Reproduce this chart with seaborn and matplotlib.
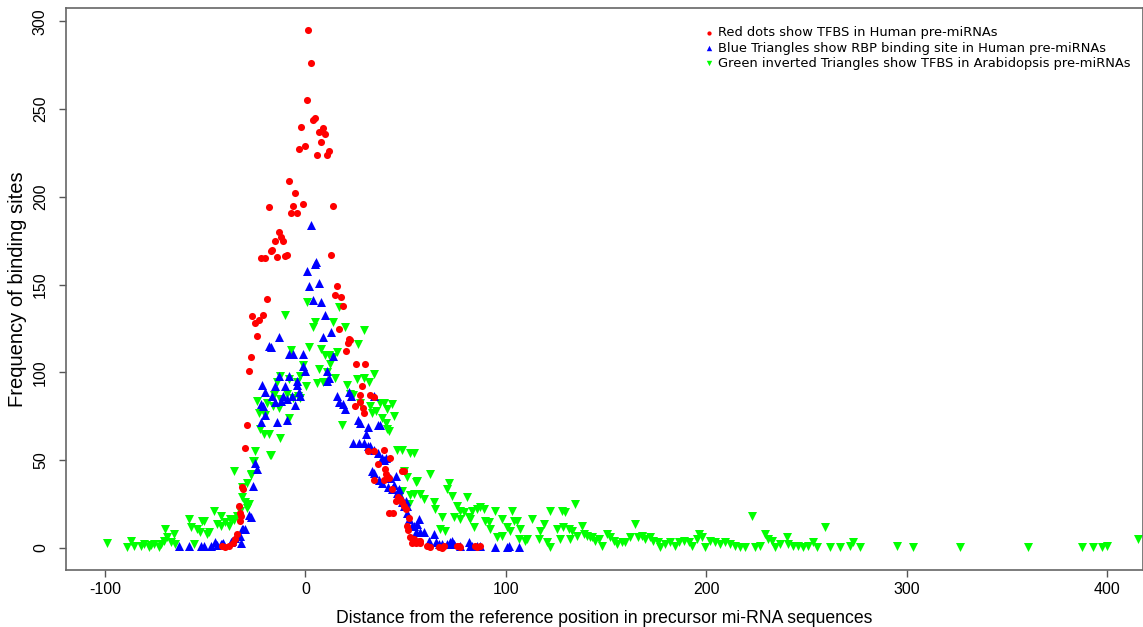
import matplotlib
matplotlib.use("Agg")
import matplotlib.pyplot as plt
import seaborn as sns
import pandas as pd

# ---------------- data ----------------
red_x = [1.5, 3, 0.8, 3.8, 5, -2, 6.8, 8.8, 10, 7.8, -3, 0, 6, 11, 12, -8, -5, -18,
         -6, -1, 14, -7, -4, -13, -12, -15, -11, -16.5, -17, -22, -20, -14, -10, -9,
         13, 16, 15, 18, -19, 19, 17, -26.6, -21, -25, -23, -24, -27, -28, 22, 22.4,
         21.3, 20.3, 25, 29.6, 28, 27.4, 32, 34, 27, 24.6, 28.6, 29, -29, -30, -31,
         -31.5, -33, -32.4, -32, 31, 34, 36, 39.5, 34.4, 39, 48, 49, 41.5, 43.7, 47,
         48, 46, 52, 54, 55.4, 53, -40, -38, -36, -35, 39, 42, 40, 41.5, 43, 45, 49,
         50, 51.6, 50.7, 51, 57, 56.6, 57.4, 60.7, 62, 66.5, 68, 75.6, 77, 85.6, 87,
         -41.5, -34, -32.4, 69, 76.5, 84.8]
red_y = [295, 276, 255, 244, 245, 240, 237, 239, 236, 231, 227, 229, 224, 224, 226, 209,
         202, 194, 195, 196, 195, 191, 191, 180, 177, 175, 175, 170, 169, 165, 165, 166,
         166.5, 167, 167, 149, 144, 143, 142, 138, 125, 132, 133, 128, 130, 121, 109,
         101, 119, 118.6, 117, 112, 105, 105, 92, 87, 87, 86, 83, 81, 80, 77, 70, 57,
         33.5, 35, 24, 20, 18, 55, 55, 48, 45, 39, 39, 44, 44, 20, 20, 28, 26, 29, 6, 5,
         3, 3, 0.4, 1.3, 3, 5, 56, 51, 42, 40, 33.5, 27, 24, 22, 17, 12.7, 10, 4, 4, 3,
         1.3, 0.4, 0.4, 0, 1.3, 0.4, 0.4, 1, 1.3, 8, 15.5, 1, 1, 1]

blue_x = [2.8, 5.5, 5, 0.8, 1.8, 7, 3.8, 7.8, 10, 9, 13, -13, -18, -17, -8, -6, -1, 14,
          0, -1, 11, 11.6, -13, -8, -4, 11, -21.6, -15, -10, -4, -20, -16.6, -11, -6.6,
          -3, -2.5, 16, 22, 23, 34, -22, -21, -15, -12, -9, -5, 17, 19, 20, -20, -22,
          -14, -9, 26, 27, 31, 36, 37.4, 30, 26.6, 24, 29, 31, 32, 34, 36, 38, 39, -25,
          -24, -26, -28, -27.4, -31, -34, -32, 33, 34, 36.5, 38, 41, 42, 45, 43, 45.7,
          47.4, 49, 50.7, 51.5, 53, 55, -41.5, -45, -47, -50.7, -36.5, -35, -63, -58,
          -52, -44, -42, -41, -37, -32.4, -31.6, -30, 40, 44, 46.5, 48, 50.7, 50, 54,
          56.5, 55.7, 57.4, 59, 64, 61.5, 65, 66.5, 68, 70.7, 72, 74, 77, 82, 85.6,
          94.8, 100.6, 106.5, 73.2, 81.5, 83.1, 87.3, 101.4]
blue_y = [184, 163, 162, 158, 149, 151, 141, 140, 132.5, 120, 123, 120, 115, 114.5, 110.5,
          110.5, 110.7, 109.5, 101, 103.5, 101, 97, 98, 98, 95, 95, 93, 92, 92, 93, 89,
          86.5, 86.5, 86.5, 89, 86.5, 86.5, 89, 86.5, 86.4, 82, 81, 83, 84, 85, 81.7, 83,
          82, 79, 76, 72, 72, 73, 73, 71, 69, 70, 70, 65, 60, 60, 60, 58, 58, 56, 54, 51,
          50, 48.6, 45, 35.5, 19, 17.4, 11, 7, 3, 44, 43, 39, 37, 35, 40, 41, 33.5, 31.6,
          30, 24, 20, 16.5, 12.7, 9, 2.3, 3.2, 1.3, 1.3, 4, 5.5, 1, 1, 1, 1.7, 2.3, 2.8,
          3.2, 7, 11, 11, 51, 36, 33.5, 26, 24, 27, 12.7, 16.5, 13.6, 9, 9, 8, 4, 3.2,
          2.3, 2.3, 2.3, 3.2, 2.3, 1.3, 1.3, 1.3, 0.4, 0.4, 0.4, 4.2, 3.2, 1.3, 1.3, 1.3]

green_x = [-99, -89, -87, -85.6, -82, -80.6, -78, -77, -75.6, -73, -72, -70.7, -69, -67,
           -70, -65.7, -65, -58, -57, -55.7, -54, -52.4, -50.7, -49, -45.7, -44, -42,
           -40, -38, -37.4, -35.7, -34, -32.4, -30, -29, -35.7, -31.6, -29, -27.4, -25.8,
           -25, -17.5, -51.6, -48, -42, -36.6, -31.6, -28, -27, -26,
           16.6, 0.8, -10, 5, 4, 14, 20, 29, 26, -7, -1, 2, 8, 10, 12, 16, 12.5, 14, 6.6,
           11, 15, 5.8, 8.8, -12.5, -14, -8, -4, -2.5, 0.3, -15.8, -12.5, -9, -6, -3.6,
           -2.5, -24.4, -19, -16, -13, -23, -20, -22.8, -20.8, -18, -12.5, -8, -17,
           20.8, 22.4, 24, 25.8, 29, 31.6, 34, 18.3, 27.4, 33, 32.4, 37.4, 43, 40.7, 35,
           40, 41.5, 45.7, 52.4, 49, 50.7, 55, 52.4, 51.5,
           39, 44, 40.7, 38, 48, 54, 55.7, 62, 48, 54, 57.4, 59, 64, 64.8, 67.3,
           71.5, 70.7, 73.2, 80.6, 75.7, 77.3, 79, 83.1, 85.6, 87.3, 88.9, 74, 68.2, 77.3,
           81.5, 82.3, 69.8, 84, 89.8, 91.4, 94.8, 98.1, 103.1, 103.9, 105.6, 92.3, 98.1,
           95.6, 100.6, 102.2, 107.2, 113.1, 117.2, 118.9, 122.2, 128, 129.7, 134.7, 110.6,
           109.7, 106.4, 116.4, 120.5, 122.2, 125.5, 128.8, 131.3, 133, 138, 127.2, 132.2,
           135.5, 138.8, 140.5, 142.1,
           143, 144.6, 146.3, 148, 150.5, 152.1, 153.8, 155.4, 158, 159.6, 162.1, 164.6,
           166.2, 167.9, 169.6, 172.1, 173.7, 176.2, 177.1, 179.6, 182, 184.5, 186.2,
           188.7, 191.2, 192.9, 195.4, 196.2, 197.8, 199.5, 202, 204.5, 207, 209.5, 212,
           214.5, 217, 219.5, 222.8, 224.4, 226.9, 229.4, 231.1, 232.8, 234.4, 236.9,
           240.2, 241, 243.5, 246, 248.5, 251, 253.5, 255.2, 259.4, 261.8, 266.8, 271.8,
           273.5, 276.8,
           295.1, 303.4, 326.7, 360.8, 387.4, 393.2, 397.4, 399.9, 415.6]
green_y = [3, 0.8, 4, 1.3, 1.3, 2.3, 0.8, 1.7, 2.3, 0.8, 2.3, 4, 6, 3.2,
           10.8, 8, 2.3, 16.5, 11.7, 2.3, 10.8, 9, 15.5, 8, 21, 13.6, 12.7,
           14.6, 12.7, 16.5, 16, 18, 21, 26, 23, 44, 35, 37, 42, 49.6,
           55, 53, 15.5, 9.3, 18, 16.5, 29, 25, 41.5, 49.6,
           137.5, 140, 132.5, 129, 126, 129, 126, 124, 116, 113, 104, 114.5, 113.5, 110,
           110, 111.7, 105, 109, 102, 100, 97, 94, 94.4, 98, 94.4, 96, 94.4, 98, 92, 87,
           85, 88, 85.5, 86.5, 85.5, 83.6, 82.7, 80.7, 80, 77, 76, 67.5, 65, 64.7, 62.7,
           74, 53,
           93, 88, 87, 96, 97, 94.4, 99, 70, 82.7, 77, 80.7, 82.7, 81.8, 79, 78,
           71, 66.6, 56, 54, 44, 40.5, 37.4, 30, 25,
           82.7, 75, 67.5, 74, 56, 54, 38, 42, 32.5, 30.6, 30.6, 28, 26, 22, 10.8,
           37.3, 33.5, 29.7, 28.8, 24, 21.2, 20.3, 21.2, 22.1, 23.1, 22.1, 17.4, 17.4,
           16.5, 17.4, 16.5, 9.8, 11.7, 15.5, 14.6, 21.2, 16.5, 21.2, 15.5, 15.5, 10.8, 7,
           6.1, 11.7, 9.8, 10.8, 16.5, 9.8, 13.6, 21.2, 21.2, 20.3, 25, 5.1,
           4.2, 5.1, 5.1, 3.2, 0.4, 10.8, 11.7, 10.8, 9.8, 12.7, 5.1, 5.1,
           7, 8, 7, 6.1,
           6.1, 4.2, 5.1, 1.3, 8, 6.1, 4.2, 2.3, 3.2, 3.2, 6.1, 13.6,
           6.1, 7, 5.1, 6.1, 4.2, 3.2, 0.4, 2.3, 3.2, 1.3, 3.2,
           4.2, 3.2, 1.3, 5.1, 8, 6.1, 0.4, 4.2, 3.2, 2.3, 3.2, 2.3,
           1.3, 0.4, 0.4, 18.3, 0.4, 1.3, 8, 5.1, 4.2, 0.4, 2.3,
           6.1, 2.3, 1.3, 1.3, 0.4, 1.3, 3.2, 0.4, 11.7, 0.4, 0.4, 1.3,
           3.2, 0.4,
           1.3, 0.4, 0.4, 0.4, 0.4, 0.4, 0.4, 1.3, 5.1]

labels = ["Red dots show TFBS in Human pre-miRNAs",
          "Blue Triangles show RBP binding site in Human pre-miRNAs",
          "Green inverted Triangles show TFBS in Arabidopsis pre-miRNAs"]
x_label = "Distance from the reference position in precursor mi-RNA sequences"
y_label = "Frequency of binding sites"
x_ticks = [-100, 0, 100, 200, 300, 400]
y_ticks = [0, 50, 100, 150, 200, 250, 300]

# ---------------- plotting ----------------
sns.set_style("white")
plt.rcParams["font.family"] = ["Liberation Sans", "DejaVu Sans"]
plt.rcParams["text.color"] = "black"
plt.rcParams["axes.labelcolor"] = "black"
plt.rcParams["xtick.color"] = "black"
plt.rcParams["ytick.color"] = "black"

fig = plt.figure(figsize=(11.43, 6.27), dpi=100)
ax = fig.add_axes([0.0577, 0.091, 0.9423, 0.896])

df_r = pd.DataFrame({"x": red_x, "y": red_y})
df_b = pd.DataFrame({"x": blue_x, "y": blue_y})
df_g = pd.DataFrame({"x": green_x, "y": green_y})

sns.scatterplot(data=df_r, x="x", y="y", ax=ax, color="#ff0000", marker="o",
                s=26, linewidth=0, label=labels[0], zorder=3)
sns.scatterplot(data=df_b, x="x", y="y", ax=ax, color="#0000ff", marker="^",
                s=42, linewidth=0, label=labels[1], zorder=2)
sns.scatterplot(data=df_g, x="x", y="y", ax=ax, color="#00ff00", marker="v",
                s=42, linewidth=0, label=labels[2], zorder=1)

ax.set_xlim(-119.5, 418)
ax.set_ylim(-12.5, 307.5)
ax.set_xticks(x_ticks)
ax.set_yticks(y_ticks)
ax.set_xticklabels([str(t) for t in x_ticks], fontsize=11.5)
ax.set_yticklabels([str(t) for t in y_ticks], fontsize=11.5, rotation=90, va="center")
ax.tick_params(axis="both", direction="out", length=5, width=1, color="#555555",
               labelcolor="black", bottom=True, left=True)
ax.tick_params(axis="x", pad=4)
ax.tick_params(axis="y", pad=8)
ax.set_xlabel(x_label, fontsize=12.7, labelpad=9, color="black")
ax.set_ylabel(y_label, fontsize=14.5, labelpad=4, color="black")
for sp in ax.spines.values():
    sp.set_visible(True)
    sp.set_color("#666666")
    sp.set_linewidth(1.2)

leg = ax.legend(loc="upper left", bbox_to_anchor=(0.584, 0.977), frameon=False,
                markerscale=0.6, handletextpad=0.1,
                labelspacing=0.17, borderaxespad=0, handlelength=1.3,
                prop={"family": "DejaVu Sans", "size": 9.4})
for t in leg.get_texts():
    t.set_color("black")

fig.savefig("out.png", dpi=100)
